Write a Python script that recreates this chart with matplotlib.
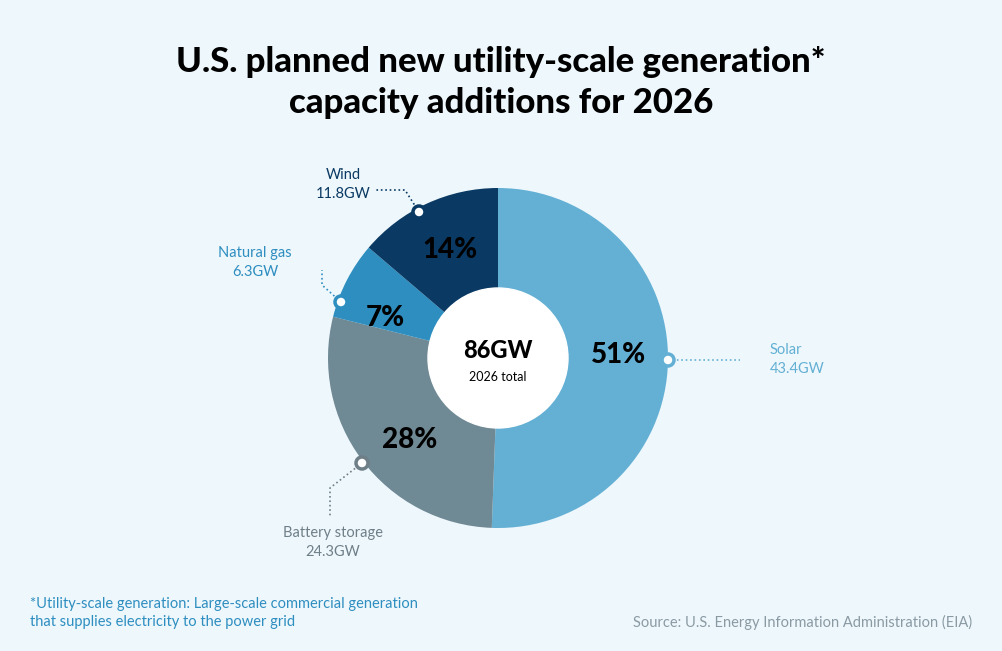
import matplotlib.pyplot as plt
from matplotlib.patches import Circle

plt.rcParams['font.family'] = ['Lato', 'DejaVu Sans']

labels = ["Solar", "Battery storage", "Natural gas", "Wind"]
gw = [43.4, 24.3, 6.3, 11.8]
pcts = ["51%", "28%", "7%", "14%"]
colors = ["#63b0d4", "#6f8995", "#2e8ec0", "#0a3a63"]
text_colors = ["#63b0d4", "#6f7f88", "#2e8ec0", "#0a3a63"]

W, H = 1002, 651
fig = plt.figure(figsize=(W / 100, H / 100), dpi=100)
bg = "#eef7fc"
fig.patch.set_facecolor(bg)
ax = fig.add_axes([0, 0, 1, 1])
ax.set_xlim(0, W)
ax.set_ylim(0, H)
ax.set_aspect("equal")
ax.axis("off")

cx, cy, r = 498, H - 358, 170
ax.pie(gw, colors=colors, startangle=90, counterclock=False,
       center=(cx, cy), radius=r, wedgeprops=dict(linewidth=0), frame=True)
ax.set_xlim(0, W)
ax.set_ylim(0, H)
ax.axis("off")
ax.add_patch(Circle((cx, cy), 70, color="white", zorder=3))

def Y(py):
    return H - py

# percentages
for (x, y), p in zip([(618, 355), (410, 440), (385, 318), (450, 250)], pcts):
    ax.text(x, Y(y), p, ha="center", va="center", fontsize=20, fontweight="black", color="black", zorder=4)

ax.text(cx, Y(350), "86GW", ha="center", va="center", fontsize=17, fontweight="black", zorder=4)
ax.text(cx, Y(377), "2026 total", ha="center", va="center", fontsize=9, zorder=4)

# leader lines and markers
leaders = [
    ([668, 740], [360, 360]),
    ([362, 330, 330], [463, 488, 518]),
    ([341, 322, 322], [302, 285, 270]),
    ([419, 405, 375], [212, 190, 190]),
]
markers = [(668, 360), (362, 463), (341, 302), (419, 212)]
for (xs, ys), (mx, my), c in zip(leaders, markers, text_colors):
    ax.plot(xs, [Y(v) for v in ys], ls=":", color=c, lw=1.2, zorder=2)
    ax.add_patch(Circle((mx, Y(my)), 6, facecolor="white", edgecolor=c, lw=2.5, zorder=5))

label_pos = [(770, "left"), (333, "center"), (255, "center"), (343, "center")]
label_y = [350, 533, 253, 175]
for i in range(4):
    x, ha = label_pos[i]
    ax.text(x, Y(label_y[i]), labels[i], ha=ha, va="center", fontsize=10.5, color=text_colors[i])
    ax.text(x, Y(label_y[i] + 19), f"{gw[i]}GW", ha=ha, va="center", fontsize=10.5, color=text_colors[i])

ax.text(501, Y(62), "U.S. planned new utility-scale generation*", ha="center", va="center",
        fontsize=25, fontweight="black")
ax.text(501, Y(103), "capacity additions for 2026", ha="center", va="center",
        fontsize=25, fontweight="black")

ax.text(30, Y(604), "*Utility-scale generation: Large-scale commercial generation", ha="left", va="center",
        fontsize=10.5, color="#2e8ec0")
ax.text(30, Y(622), "that supplies electricity to the power grid", ha="left", va="center",
        fontsize=10.5, color="#2e8ec0")
ax.text(972, Y(622), "Source: U.S. Energy Information Administration (EIA)", ha="right", va="center",
        fontsize=10.5, color="#8a9aa3")

fig.savefig("out.png", dpi=100, facecolor=bg)
